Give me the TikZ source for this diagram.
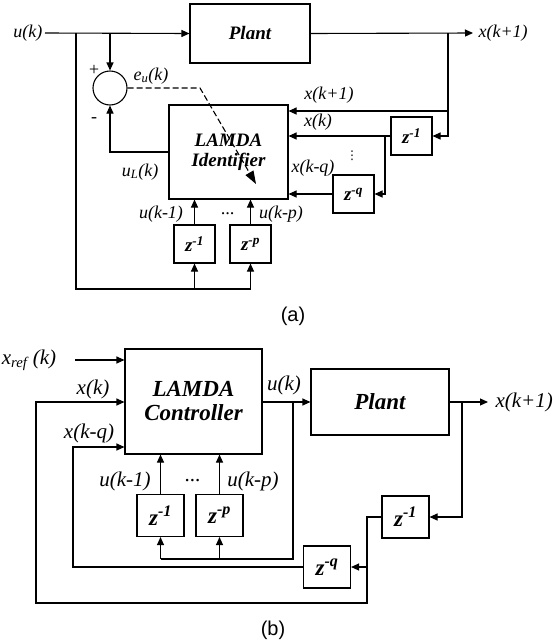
\documentclass[tikz,border=0pt]{standalone}
\usepackage{fontspec}
\setmainfont{Liberation Serif}
\setsansfont{Liberation Sans}
\newfontfamily\dvfont{DejaVu Sans}
\usetikzlibrary{arrows.meta}
\newcommand{\labA}{\fontsize{18}{20}\selectfont\itshape}
\newcommand{\labB}{\fontsize{21}{23}\selectfont\itshape}
\newcommand{\boldA}{\fontsize{19}{22}\selectfont\bfseries\itshape}
\newcommand{\boldB}{\fontsize{23}{26}\selectfont\bfseries\itshape}
\newcommand{\capfont}{\fontsize{20}{22}\selectfont\sffamily}
\begin{document}
\begin{tikzpicture}[x=1pt,y=-1pt,line width=1.1pt,
  arr/.style={-{Triangle[length=8pt,width=7pt]}},
  box/.style={draw,inner sep=0pt,align=center},
  dlyA/.style={box,minimum width=41pt,minimum height=38pt,font=\boldA},
  dlyB/.style={box,minimum width=47pt,minimum height=42pt,font=\boldB},
  lblA/.style={inner sep=0pt,font=\labA},
  lblB/.style={inner sep=0pt,font=\labB}]
\useasboundingbox (0,0) rectangle (558,643);

% ---------------- (a) ----------------
\node[box,minimum width=120pt,minimum height=59pt,font=\boldA] (plantA) at (250,33.5) {Plant};
\node[box,minimum width=119pt,minimum height=94pt,font=\boldA] (lamdaA) at (228.5,152) {LAMDA\\[-2pt]Identifier};
\node[draw,circle,minimum size=34pt,inner sep=0pt] (sumA) at (110,88) {};
\node[dlyA] (z1A) at (411.5,136) {z\textsuperscript{-1}};
\node[dlyA] (zqA) at (353.5,194) {z\textsuperscript{-q}};
\node[dlyA] (zu1A) at (194.5,244) {z\textsuperscript{-1}};
\node[dlyA] (zupA) at (250.5,244) {z\textsuperscript{-p}};

\coordinate (uinA) at (45,33);
\coordinate (bA1) at (76,33);
\coordinate (bA2) at (110,33);
\coordinate (outA) at (448,33);
\coordinate (outEndA) at (473,33);
\coordinate (fbA) at (448,111);
\coordinate (xkA) at (385,136);
\coordinate (botA) at (76,289);
\coordinate (botA1) at (194.5,289);
\coordinate (botA2) at (250.5,289);
\coordinate (ulA) at (110,152);
\coordinate (dA1) at (200,88);
\coordinate (dA2) at (256,184);

\draw[arr] (uinA) -- (plantA.west);
\draw[arr] (plantA.east) -- (outEndA);
\draw[arr] (outA) -- (fbA) -- (lamdaA.east |- fbA);
\draw[arr] (fbA) |- (z1A.east);
\draw[arr] (z1A.west) -- (lamdaA.east |- z1A);
\draw[arr] (xkA) |- (zqA.east);
\draw[arr] (zqA.west) -- (lamdaA.east |- zqA);
\draw[arr] (bA2) -- (sumA.north);
\draw[arr] (lamdaA.west |- ulA) -- (ulA) -- (sumA.south);
\draw (bA1) -- (botA) -- (botA2);
\draw[arr] (botA1) -- (zu1A.south);
\draw[arr] (botA2) -- (zupA.south);
\draw[arr] (zu1A.north) -- (lamdaA.south -| zu1A);
\draw[arr] (zupA.north) -- (lamdaA.south -| zupA);
\draw[dashed,dash pattern=on 6pt off 3pt,-{Triangle[length=13pt,width=9pt]}] (sumA.east) -- (dA1) -- (dA2);

\node[lblA,anchor=east] (luA) at (43,33) {u(k)};
\node[lblA,anchor=west] (lxA) at (478,33) {x(k+1)};
\node[lblA] (plusA) at (94,70) {+};
\node[lblA] (minusA) at (94,120) {-};
\node[lblA] (leA) at (151,76) {e\textsubscript{u}(k)};
\node[lblA] (lulA) at (140,172) {u\textsubscript{L}(k)};
\node[lblA] (lx1A) at (329,95) {x(k+1)};
\node[lblA] (lxkA) at (318,122) {x(k)};
\node[lblA] (lxqA) at (313,168) {x(k-q)};
\node[inner sep=0pt,font=\dvfont\fontsize{12}{12}\selectfont] (vdA) at (352,156) {⋮};
\node[lblA] (lu1A) at (161,214) {u(k-1)};
\node[lblA] (ldA) at (228,214) {...};
\node[lblA] (lupA) at (281,214) {u(k-p)};
\node[inner sep=0pt,font=\capfont] (capA) at (293,316) {(a)};

% ---------------- (b) ----------------
\node[box,minimum width=137pt,minimum height=105pt,font=\boldB] (ctrlB) at (193.5,401.5) {LAMDA\\[-2pt]Controller};
\node[box,minimum width=138pt,minimum height=66pt,font=\boldB] (plantB) at (380,402) {Plant};
\node[dlyB] (zu1B) at (160.5,515.5) {z\textsuperscript{-1}};
\node[dlyB] (zupB) at (219.5,515.5) {z\textsuperscript{-p}};
\node[dlyB] (z1B) at (405.5,517) {z\textsuperscript{-1}};
\node[dlyB] (zqB) at (327,567) {z\textsuperscript{-q}};

\coordinate (xrefB) at (75,360);
\coordinate (xkB) at (36,402);
\coordinate (xqB) at (73,447);
\coordinate (bB1) at (367,517);
\coordinate (bB2) at (367,567);
\coordinate (bB3) at (367,603);
\coordinate (bB4) at (36,603);
\coordinate (bB5) at (73,567);
\coordinate (uB) at (293,402);
\coordinate (uB2) at (293,559);
\coordinate (uB3) at (160.5,559);
\coordinate (uB4) at (219.5,559);
\coordinate (oB) at (462,402);
\coordinate (oEndB) at (488,402);

\draw[arr] (xrefB) -- (ctrlB.west |- xrefB);
\draw[arr] (z1B.west) -- (bB1) -- (bB3) -- (bB4) -- (xkB) -- (ctrlB.west |- xkB);
\draw[arr] (bB2) -- (zqB.east);
\draw[arr] (zqB.west) -- (bB5) -- (xqB) -- (ctrlB.west |- xqB);
\draw[arr] (ctrlB.east |- uB) -- (plantB.west);
\draw (uB) -- (uB2) -- (uB3);
\draw[arr] (uB3) -- (zu1B.south);
\draw[arr] (uB4) -- (zupB.south);
\draw[arr] (zu1B.north) -- (ctrlB.south -| zu1B);
\draw[arr] (zupB.north) -- (ctrlB.south -| zupB);
\draw[arr] (plantB.east) -- (oEndB);
\draw[arr] (oB) |- (z1B.east);

\node[lblB] (lxrB) at (29,360) {x\textsubscript{ref} (k)};
\node[lblB] (lxkB) at (93,389) {x(k)};
\node[lblB] (lxqB) at (89,433) {x(k-q)};
\node[lblB] (luB) at (284,385) {u(k)};
\node[lblB,anchor=west] (lxoB) at (495,402) {x(k+1)};
\node[lblB] (lu1B) at (125,481) {u(k-1)};
\node[lblB] (ldB) at (193,481) {...};
\node[lblB] (lupB) at (253,481) {u(k-p)};
\node[inner sep=0pt,font=\capfont] (capB) at (273,630) {(b)};
\end{tikzpicture}
\end{document}
